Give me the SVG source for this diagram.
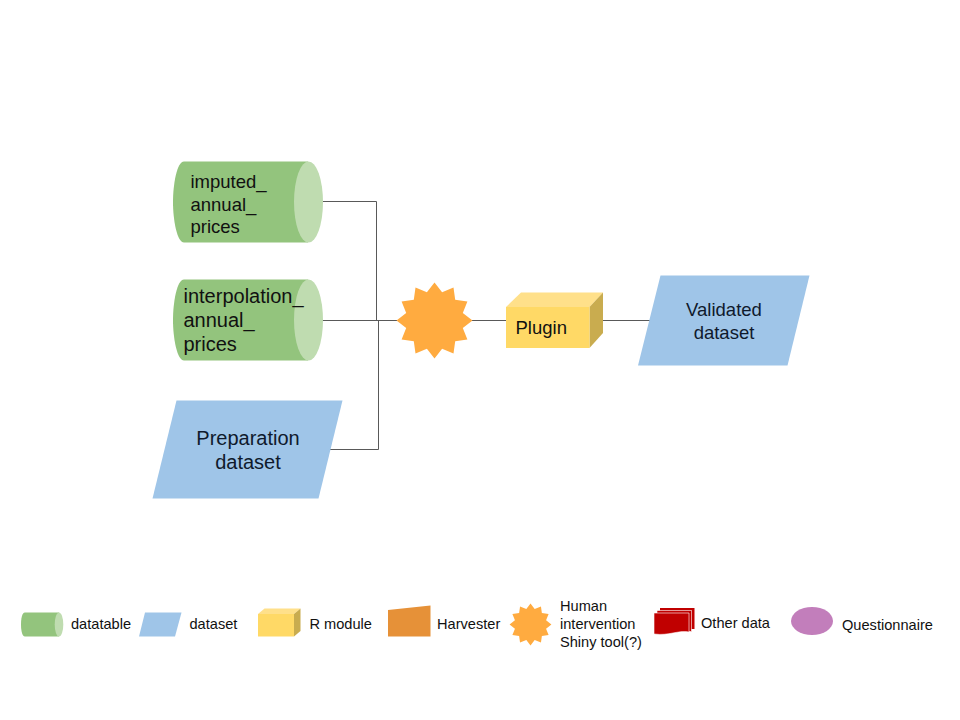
<svg xmlns="http://www.w3.org/2000/svg" width="960" height="720" viewBox="0 0 960 720">
<style>
text{font-family:"Liberation Sans",Arial,sans-serif;fill:#111}
.m{font-size:18.500px}
.b{font-size:20px}
.c{text-anchor:middle;fill:#0f1a2c}
.l{font-size:14.600px}
.cy{fill:#93c47d}
.cap{fill:#bfdcb0}
.ds{fill:#9fc5e8}
.st{fill:#ffab40}
.fr{fill:#ffd966}
.tp{fill:#ffe08a}
.sd{fill:#c9ac4f}
.ln{fill:none;stroke:#595959;stroke-width:1}
</style>
<defs>
<polygon id="star" points="38,0 28.300,-7.600 32.900,-19 20.700,-20.700 19,-32.900 7.600,-28.300 0,-38 -7.600,-28.300 -19,-32.900 -20.700,-20.700 -32.900,-19 -28.300,-7.600 -38,0 -28.300,7.600 -32.900,19 -20.700,20.700 -19,32.900 -7.600,28.300 0,38 7.600,28.300 19,32.900 20.700,20.700 32.900,19 28.300,7.600"/>
</defs>
<rect width="960" height="720" fill="#fff"/>
<g id="connectors">
<path class="ln" d="M323,201.500H376.500V320"/>
<path class="ln" d="M315,320.500H397"/>
<path class="ln" d="M330,449.500H378.500V321"/>
<path class="ln" d="M471,320.500H506"/>
<path class="ln" d="M603,320.500H650"/>
</g>
<g id="imputed">
<path class="cy" d="M184,161.500H308V242.500H184C177,242.500 173,220 173,202C173,184 177,161.500 184,161.500Z"/>
<ellipse class="cap" cx="308.500" cy="202" rx="14.500" ry="40.500"/>
<text class="m" x="190.500" y="188">imputed_</text>
<text class="m" x="190.500" y="210.500">annual_</text>
<text class="m" x="190.500" y="232.500">prices</text>
</g>
<g id="interpolation">
<path class="cy" d="M184,279.500H308V360.500H184C177,360.500 173,338 173,320C173,302 177,279.500 184,279.500Z"/>
<ellipse class="cap" cx="308.500" cy="320" rx="14.500" ry="40.500"/>
<text class="b" x="183.500" y="303">interpolation_</text>
<text class="b" x="183.500" y="327">annual_</text>
<text class="b" x="183.500" y="351">prices</text>
</g>
<g id="preparation">
<polygon class="ds" points="176.500,400.500 342.500,400.500 318.500,498.500 152.500,498.500"/>
<text class="b c" x="248" y="444.500">Preparation</text>
<text class="b c" x="248" y="468.500">dataset</text>
</g>
<g id="human"><use href="#star" class="st" x="434.500" y="320.500"/></g>
<g id="plugin">
<polygon class="tp" points="506,307 521,292.500 603,292.500 589.500,307"/>
<polygon class="sd" points="589.500,307 603,292.500 603,333 589.500,348"/>
<rect class="fr" x="506" y="307" width="83.500" height="41"/>
<text class="m" x="515.500" y="334">Plugin</text>
</g>
<g id="validated">
<polygon class="ds" points="660.500,275.500 809.500,275.500 787.500,365.500 638,365.500"/>
<text class="m c" x="724" y="316">Validated</text>
<text class="m c" x="724" y="339">dataset</text>
</g>
<g id="legend-datatable">
<path class="cy" d="M25,612.500H59V636.500H25C22,636.500 21,630 21,624.500C21,619 22,612.500 25,612.500Z"/>
<ellipse class="cap" cx="59" cy="624.500" rx="4.300" ry="12"/>
<text class="l" x="71" y="629">datatable</text>
</g>
<g id="legend-dataset">
<polygon class="ds" points="145,612.500 181.500,612.500 175,636.500 139,636.500"/>
<text class="l" x="189.500" y="629">dataset</text>
</g>
<g id="legend-rmodule">
<polygon class="tp" points="258,614 264.500,608.500 300.500,608.500 294,614"/>
<polygon class="sd" points="294,614 300.500,608.500 300.500,631 294,636.500"/>
<rect class="fr" x="258" y="614" width="36" height="22.500"/>
<text class="l" x="309.500" y="629">R module</text>
</g>
<g id="legend-harvester">
<polygon points="388,610 430.500,605.500 430.500,636.500 388,636.500" fill="#e69138"/>
<text class="l" x="437" y="629">Harvester</text>
</g>
<g id="legend-human">
<use href="#star" class="st" transform="translate(530.500,624.500) scale(.55)"/>
<text class="l" x="560" y="611">Human</text>
<text class="l" x="560" y="629">intervention</text>
<text class="l" x="560" y="647">Shiny tool(?)</text>
</g>
<g id="legend-other">
<rect x="660" y="608" width="34.500" height="21" fill="#c00000"/>
<rect x="657" y="610.500" width="34.500" height="21" fill="#c00000" stroke="#fff" stroke-width=".6"/>
<path d="M654,613H689V632C678,630 669,636 654,634Z" fill="#c00000" stroke="#fff" stroke-width=".6"/>
<text class="l" x="701" y="628">Other data</text>
</g>
<g id="legend-questionnaire">
<ellipse cx="812" cy="621" rx="21" ry="14" fill="#c27ebb"/>
<text class="l" x="842" y="630">Questionnaire</text>
</g>
</svg>
